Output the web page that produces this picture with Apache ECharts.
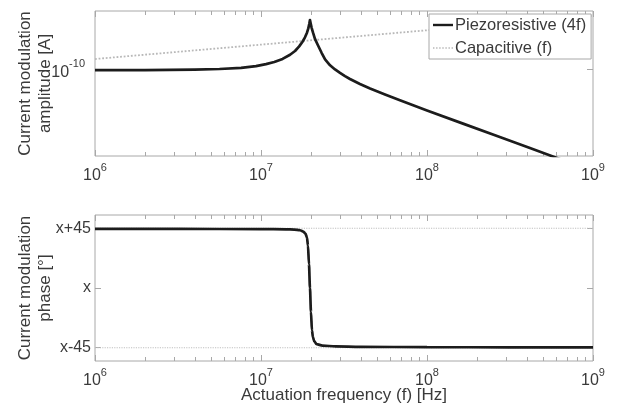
<!DOCTYPE html>
<html><head><meta charset="utf-8">
<script src="https://cdn.jsdelivr.net/npm/echarts@6/dist/echarts.min.js"></script>
<style>html,body{margin:0;padding:0;background:#fff}#c{width:618px;height:405px}</style>
</head><body><div id="c"></div>
<script>
// ---- tick labels / axis values (log10 of frequency in Hz) ----
const freqDecades = [6, 7, 8, 9];
const minorMultipliers = [2, 3, 4, 5, 6, 7, 8, 9];
const ampTickExponents = [-10];            // log10 of current amplitude [A]
const phaseTicks = [-45, 0, 45];
const phaseTickLabels = ['x-45', 'x', 'x+45'];

// ---- series names ----
const seriesNames = ['Piezoresistive (4f)', 'Capacitive (f)'];

// ---- Piezoresistive amplitude: log10 f, log10 A ----
const piezoAmpLogF = [6.0, 6.3, 6.6, 6.75, 6.88, 6.97, 7.03, 7.08, 7.13, 7.175, 7.205, 7.23, 7.25, 7.265, 7.277, 7.285, 7.291, 7.295,
  7.299, 7.305, 7.313, 7.325, 7.343, 7.365, 7.386, 7.416, 7.446, 7.476, 7.506, 7.536, 7.596, 7.657, 7.747, 7.837, 8.0, 8.217, 8.422, 8.62, 8.783, 9.0];
const piezoAmpLogA = [-10.009, -10.009, -10.006, -10.0, -9.99, -9.975, -9.958, -9.94, -9.913, -9.877, -9.845, -9.805, -9.765, -9.727, -9.687, -9.65, -9.61, -9.578,
  -9.605, -9.645, -9.685, -9.74, -9.795, -9.86, -9.918, -9.968, -10.004, -10.034, -10.062, -10.086, -10.129, -10.168, -10.22, -10.27, -10.357, -10.471, -10.578, -10.681, -10.767, -10.879];

// ---- Capacitive amplitude: log10 f, log10 A ----
const capAmpLogF = [6, 7, 8, 9];
const capAmpLogA = [-9.914, -9.790, -9.666, -9.541];

// ---- Piezoresistive phase: log10 f, degrees relative to x ----
const piezoPhaseLogF = [6.0, 6.5, 7.0, 7.15, 7.2, 7.235, 7.255, 7.268, 7.277, 7.283, 7.289, 7.295, 7.301, 7.307,
  7.313, 7.32, 7.335, 7.37, 7.45, 7.6, 8.0, 8.5, 9.0];
const piezoPhaseDeg = [44.5, 44.5, 44.4, 44.2, 44.0, 43.5, 42.5, 41, 38, 32, 18, 0, -18, -32,
  -37, -40, -42.3, -43.4, -44, -44.3, -44.6, -44.7, -44.8];

// ---- Capacitive phase reference lines (degrees) ----
const capPhaseLevels = [45, -45];

const AXIS_COLOR = '#a8a8a8';
const TEXT_COLOR = '#3a3a3a';
const FONT = 'Liberation Sans, Arial, sans-serif';
const LINE_COLOR = '#1c1c1c';
const CAP_COLOR = '#b8b8b8';

const zip = (a, b) => a.map((v, i) => [v, b[i]]);
const minorFreqTicks = [];
freqDecades.slice(0, -1).forEach(d => minorMultipliers.forEach(m => minorFreqTicks.push(d + Math.log10(m))));

const supRich = {
  b: { fontSize: 16, fontFamily: FONT, color: TEXT_COLOR, padding: [7, 0, 0, 0] },
  s: { fontSize: 11, fontFamily: FONT, color: TEXT_COLOR, padding: [0, 0, 10, 0] }
};

function xAxisSet(gridIndex) {
  const base = { type: 'value', gridIndex, min: 6, max: 9, splitLine: { show: false }, axisLine: { show: false, onZero: false } };
  const mk = (position, ticks, len, label) => Object.assign({}, base, {
    position,
    axisTick: { show: true, inside: true, length: len, customValues: ticks, lineStyle: { color: AXIS_COLOR } },
    axisLabel: label ? {
      show: true, customValues: freqDecades, margin: 5,
      formatter: v => '{b|10}{s|' + Math.round(v) + '}', rich: supRich
    } : { show: false }
  });
  const axes = [
    mk('bottom', freqDecades, 6, true),
    mk('bottom', minorFreqTicks, 4, false),
    mk('top', freqDecades, 6, false),
    mk('top', minorFreqTicks, 4, false)
  ];
  if (gridIndex === 1) {
    axes[0].name = 'Actuation frequency (f) [Hz]';
    axes[0].nameLocation = 'middle';
    axes[0].nameGap = 24;
    axes[0].nameMoveOverlap = false;
    axes[0].nameTextStyle = { fontSize: 17, fontFamily: FONT, color: TEXT_COLOR, lineHeight: 20 };
  }
  return axes;
}

const xAxes = [].concat(xAxisSet(0), xAxisSet(1));

const yName = { fontSize: 17, fontFamily: FONT, color: TEXT_COLOR, lineHeight: 20, align: 'center' };
const yBase = { type: 'value', splitLine: { show: false }, axisLine: { show: false, onZero: false } };
const yAxes = [
  Object.assign({}, yBase, {
    gridIndex: 0, position: 'left', min: -10.75, max: -9.5,
    axisTick: { show: true, inside: true, length: 6, customValues: ampTickExponents, lineStyle: { color: AXIS_COLOR } },
    axisLabel: { show: true, customValues: ampTickExponents, margin: 10,
      formatter: v => '{b|10}{s|' + Math.round(v) + '}', rich: supRich },
    name: 'Current modulation\namplitude [A]', nameLocation: 'middle', nameRotate: 90, nameGap: 40,
    nameMoveOverlap: false, nameTextStyle: yName
  }),
  Object.assign({}, yBase, {
    gridIndex: 0, position: 'right', min: -10.75, max: -9.5,
    axisTick: { show: true, inside: true, length: 6, customValues: ampTickExponents, lineStyle: { color: AXIS_COLOR } },
    axisLabel: { show: false }
  }),
  Object.assign({}, yBase, {
    gridIndex: 1, position: 'left', min: -55, max: 55,
    axisTick: { show: true, inside: true, length: 6, customValues: phaseTicks, lineStyle: { color: AXIS_COLOR } },
    axisLabel: { show: true, customValues: phaseTicks, margin: 4, fontSize: 16, fontFamily: FONT, color: TEXT_COLOR,
      formatter: v => phaseTickLabels[phaseTicks.indexOf(Math.round(v))] },
    name: 'Current modulation\nphase [°]', nameLocation: 'middle', nameRotate: 90, nameGap: 40,
    nameMoveOverlap: false, nameTextStyle: yName
  }),
  Object.assign({}, yBase, {
    gridIndex: 1, position: 'right', min: -55, max: 55,
    axisTick: { show: true, inside: true, length: 6, customValues: phaseTicks, lineStyle: { color: AXIS_COLOR } },
    axisLabel: { show: false }
  })
];

const gridCommon = { left: 95, right: 25, show: true, borderColor: AXIS_COLOR, borderWidth: 1, backgroundColor: '#fff',
  containLabel: false, outerBoundsMode: 'none' };

const option = {
  animation: false,
  backgroundColor: '#fff',
  textStyle: { fontFamily: FONT },
  grid: [
    Object.assign({ top: 11, height: 145 }, gridCommon),
    Object.assign({ top: 215, height: 146 }, gridCommon)
  ],
  xAxis: xAxes,
  yAxis: yAxes,
  legend: {
    data: [
      { name: seriesNames[0], icon: 'path://M0,0h20v2.4h-20z' },
      { name: seriesNames[1], icon: 'path://M0,0h1.4v1.4h-1.4z M3,0h1.4v1.4h-1.4z M6,0h1.4v1.4h-1.4z M9,0h1.4v1.4h-1.4z M12,0h1.4v1.4h-1.4z M15,0h1.4v1.4h-1.4z M18,0h1.4v1.4h-1.4z' }
    ],
    orient: 'vertical', left: 429, top: 14,
    backgroundColor: '#fff', borderColor: AXIS_COLOR, borderWidth: 1,
    padding: [1, 5, 1, 4], itemGap: 3, itemWidth: 20, itemHeight: 2.4, symbolKeepAspect: true,
    textStyle: { fontSize: 16.5, fontFamily: FONT, color: TEXT_COLOR, lineHeight: 20, padding: [0, 0, 0, -3] }
  },
  series: [
    {
      name: seriesNames[1], type: 'line', xAxisIndex: 0, yAxisIndex: 0, symbol: 'none', z: 2,
      data: zip(capAmpLogF, capAmpLogA),
      lineStyle: { color: CAP_COLOR, width: 1.8, type: 'dotted' }, itemStyle: { color: CAP_COLOR }
    },
    {
      name: seriesNames[0], type: 'line', xAxisIndex: 0, yAxisIndex: 0, symbol: 'none', z: 3,
      data: zip(piezoAmpLogF, piezoAmpLogA),
      lineStyle: { color: LINE_COLOR, width: 2.7, join: 'round' }, itemStyle: { color: LINE_COLOR }
    },
    ...capPhaseLevels.map(lvl => ({
      name: 'capPhase' + lvl, type: 'line', xAxisIndex: 4, yAxisIndex: 2, symbol: 'none', z: 2,
      data: [[freqDecades[0], lvl], [freqDecades[freqDecades.length - 1], lvl]],
      lineStyle: { color: '#c0c0c0', width: 1.2, type: 'dotted' }
    })),
    {
      name: 'piezoPhase', type: 'line', xAxisIndex: 4, yAxisIndex: 2, symbol: 'none', z: 3,
      smooth: 0.3, smoothMonotone: 'x',
      data: zip(piezoPhaseLogF, piezoPhaseDeg),
      lineStyle: { color: LINE_COLOR, width: 2.7 }
    }
  ]
};

const chart = echarts.init(document.getElementById('c'), null, { renderer: 'canvas' });
chart.setOption(option);
</script>
</body></html>
